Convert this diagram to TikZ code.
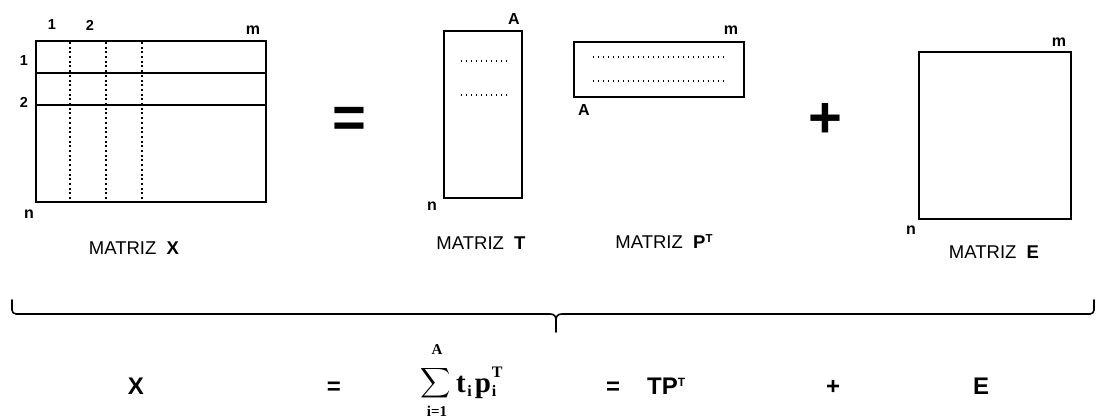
\documentclass[tikz,border=0pt]{standalone}
\usepackage{fontspec}
\setmainfont{Liberation Sans}
\newfontfamily\serifb{Liberation Serif}
\begin{document}
\begin{tikzpicture}[x=1pt,y=-1pt,
  mat/.style={draw,line width=1.8pt},
  dotv/.style={line width=2pt,dash pattern=on 2pt off 2.7pt},
  doth/.style={line width=1.4pt,dash pattern=on 1.4pt off 3.6pt},
  idx/.style={inner sep=0,font=\fontsize{16}{16}\selectfont\bfseries},
  num/.style={inner sep=0,font=\fontsize{14.5}{15}\selectfont\bfseries},
  captxt/.style={inner sep=0,anchor=base,font=\fontsize{18.5}{19}\selectfont},
  eqn/.style={inner sep=0,anchor=base,font=\fontsize{24}{24}\selectfont\bfseries},
  sertxt/.style={inner sep=0,anchor=base,font=\serifb\bfseries\fontsize{15}{15}\selectfont},
  big/.style={inner sep=0,font=\fontsize{58}{58}\selectfont\bfseries}]
\useasboundingbox (0,0) rectangle (1097,419);
% Matrix X
\draw[mat] (36,41) rectangle (266,202);
\coordinate (xl1) at (36,73); \coordinate (xr1) at (266,73);
\coordinate (xl2) at (36,105); \coordinate (xr2) at (266,105);
\draw[line width=1.8pt] (xl1) -- (xr1) (xl2) -- (xr2);
\foreach \x/\n in {70/a,106/b,142/c}{
  \coordinate (t\n) at (\x,42); \coordinate (b\n) at (\x,201);
  \draw[dotv] (t\n) -- (b\n);}
\node[num] (x1t) at (52,25) {1};
\node[num] (x2t) at (90,25) {2};
\node[idx] (xm) at (253,30) {m};
\node[num] (x1l) at (24,61) {1};
\node[num] (x2l) at (24,102) {2};
\node[idx] (xn) at (29,214) {n};
\node[captxt] (capx) at (134,254.5) {MATRIZ\ \ \textbf{X}};
% equals
\node[big] (eq1) at (349,122) {=};
% Matrix T
\draw[mat] (444,31) rectangle (522,198);
\coordinate (ta1) at (461,61); \coordinate (tb1) at (507,61);
\coordinate (ta2) at (461,95); \coordinate (tb2) at (507,95);
\draw[doth] (ta1) -- (tb1) (ta2) -- (tb2);
\node[idx] (tA) at (514,19.5) {A};
\node[idx] (tn) at (432,206) {n};
\node[captxt] (capt) at (481,249.5) {MATRIZ\ \ \textbf{T}};
% Matrix P^T
\draw[mat] (574,42) rectangle (744,97);
\coordinate (pa1) at (593,57); \coordinate (pb1) at (727,57);
\coordinate (pa2) at (593,81); \coordinate (pb2) at (727,81);
\draw[doth] (pa1) -- (pb1) (pa2) -- (pb2);
\node[idx] (pm) at (731,30) {m};
\node[idx] (pA) at (584,110) {A};
\node[captxt] (capp) at (664,248.5) {MATRIZ\ \ \textbf{P}\raisebox{6pt}{\bfseries\fontsize{11.5}{12}\selectfont T}};
% plus
\node[big] (plus1) at (825,120) {+};
% Matrix E
\draw[mat] (919,52) rectangle (1071,219);
\node[idx] (em) at (1059,42) {m};
\node[idx] (en) at (911,230) {n};
\node[captxt] (cape) at (994,258.5) {MATRIZ\ \ \textbf{E}};
% brace
\draw[line width=1.6pt,line cap=round,line join=round]
  (12,300) -- (12,310) arc[start angle=180,end angle=90,radius=4] -- (550,314)
  .. controls (554,314) and (556,316) .. (556,320) -- (556,332)
  (556,320) .. controls (556,316) and (558,314) .. (562,314) -- (1090,314)
  arc[start angle=90,end angle=0,radius=4] -- (1094,300);
% equation
\node[eqn] (bx) at (136,394) {X};
\node[eqn] (beq1) at (334,394) {=};
\node[inner sep=0] (sig) at (436,388) {\raisebox{0pt}[0pt][0pt]{\scalebox{2.1}{$\displaystyle\sum$}}};
\node[sertxt] (supA) at (437,355) {A};
\node[sertxt] (subi) at (437,416) {i=1};
\node[inner sep=0,anchor=base west,font=\serifb\bfseries\fontsize{29}{29}\selectfont] (body) at (456,392)
  {t\kern1.5pt\raisebox{-4pt}{\fontsize{16}{16}\selectfont i}\kern3pt p\kern1pt\rlap{\raisebox{15pt}{\fontsize{16}{16}\selectfont T}}\raisebox{-4pt}{\fontsize{16}{16}\selectfont i}};
\node[eqn] (beq2) at (613,394) {=};
\node[eqn,anchor=base west] (btp) at (647,394) {TP\raisebox{8pt}{\fontsize{12}{12}\selectfont T}};
\node[eqn] (bplus) at (833,394) {+};
\node[eqn] (be) at (981,394) {E};
\end{tikzpicture}
\end{document}
